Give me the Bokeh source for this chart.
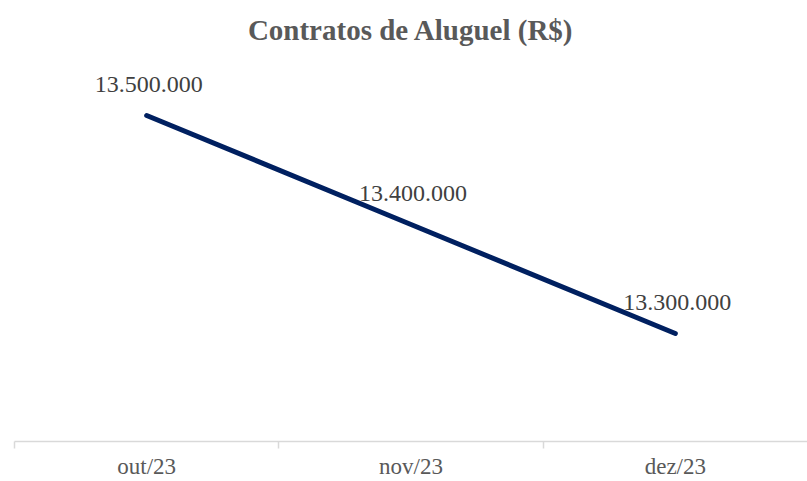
from bokeh.plotting import figure
from bokeh.models import ColumnDataSource, LinearAxis, FixedTicker, Range1d, LabelSet
from bokeh.embed import file_html
from bokeh.resources import INLINE

# Data
months = ["out/23", "nov/23", "dez/23"]
values = [13500000, 13400000, 13300000]
value_labels = ["13.500.000", "13.400.000", "13.300.000"]

xs = [i + 0.5 for i in range(len(months))]
src = ColumnDataSource(dict(x=xs, y=values, lbl=value_labels))

W, H = 807, 481
p = figure(width=W, height=H, output_backend="svg", toolbar_location=None,
           x_axis_location=None, y_axis_location=None,
           x_range=Range1d(0, len(months)), y_range=Range1d(13.2009e6, 13.5596e6),
           min_border_left=14, min_border_right=0, min_border_top=50, min_border_bottom=40)
p.outline_line_color = None
p.grid.visible = False
p.background_fill_color = "white"
p.border_fill_color = "white"

p.title.text = "Contratos de Aluguel (R$)"
p.title.align = "center"
p.title.text_font = "Liberation Serif"
p.title.text_font_size = "29px"
p.title.text_font_style = "bold"
p.title.text_color = "#595959"
p.title.standoff = 9

xaxis = LinearAxis(ticker=FixedTicker(ticks=xs, minor_ticks=list(range(len(months)))),
                   major_label_overrides={x: m for x, m in zip(xs, months)})
xaxis.major_tick_line_color = None
xaxis.major_tick_in = 0
xaxis.major_tick_out = 0
xaxis.minor_tick_in = 0
xaxis.minor_tick_out = 7
xaxis.minor_tick_line_color = "#d9d9d9"
xaxis.minor_tick_line_width = 1.5
xaxis.axis_line_color = "#d9d9d9"
xaxis.axis_line_width = 1.5
xaxis.major_label_standoff = 5
xaxis.major_label_text_font = "Liberation Serif"
xaxis.major_label_text_font_size = "23px"
xaxis.major_label_text_color = "#595959"
p.add_layout(xaxis, "below")

p.line("x", "y", source=src, line_color="#002060", line_width=5, line_cap="round")

labels = LabelSet(x="x", y="y", text="lbl", source=src, x_offset=2, y_offset=23,
                  text_align="center", text_baseline="alphabetic",
                  text_font="Liberation Serif", text_font_size="24px", text_color="#404040")
p.add_layout(labels)

open("out.html", "w").write(file_html(p, INLINE))
